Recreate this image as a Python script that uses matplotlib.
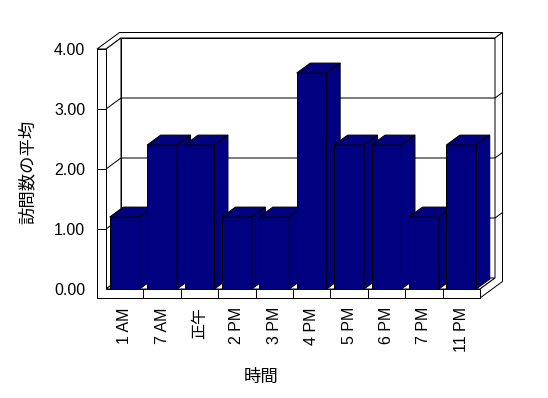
import matplotlib
matplotlib.use('Agg')
import matplotlib.pyplot as plt
from matplotlib.patches import Polygon

# ---- data ----
categories = ['1 AM', '7 AM', '正午', '2 PM', '3 PM', '4 PM', '5 PM', '6 PM', '7 PM', '11 PM']
avg_visits = [1.2, 2.4, 2.4, 1.2, 1.2, 3.6, 2.4, 2.4, 1.2, 2.4]
y_ticks = [0, 1, 2, 3, 4]
y_tick_labels = ['0.00', '1.00', '2.00', '3.00', '4.00']
x_title = '時間'
y_title = '訪問数の平均'

plt.rcParams['font.family'] = ['Liberation Sans', 'Noto Sans CJK JP']

W, H = 548, 398
fig = plt.figure(figsize=(W / 100, H / 100), dpi=100)
fig.patch.set_facecolor('white')
L, R, T, B = 106, 480, 49, 289
ax = fig.add_axes([L / W, 1 - B / H, (R - L) / W, (B - T) / H])
n = len(categories)
ymax = y_ticks[-1]
ax.set_xlim(-0.5, n - 0.5)
ax.set_ylim(0, ymax)
for s in ax.spines.values():
    s.set_visible(False)
ax.patch.set_visible(False)

pxx = (R - L) / n          # pixels per category
pxy = (B - T) / ymax       # pixels per value unit
kx = 15 / pxx              # depth offset (x) per unit depth
ky = 11 / pxy              # depth offset (y) per unit depth
tw = 9 / pxx               # left wall thickness
tf = 9 / pxy               # floor thickness
tb = 0.5                   # back wall thickness (depth units)

def P(x, y, z):
    return (x + z * kx, y + z * ky)

LW = 0.72
navy = '#000080'
AA = True

def face(pts, fc, zo):
    ax.add_patch(Polygon([P(*p) for p in pts], closed=True, fc=fc, ec='black',
                         lw=LW, clip_on=False, zorder=zo, joinstyle='miter',
                         antialiased=AA))

def line(pts, zo=1.5):
    xy = [P(*p) for p in pts]
    ax.plot([q[0] for q in xy], [q[1] for q in xy], color='black', lw=LW,
            clip_on=False, zorder=zo, solid_joinstyle='miter', antialiased=AA)

X0, X1 = -0.5, n - 0.5
Xw = X0 - tw
Yf = -tf
Ze = 1 + tb

# walls and floor
face([(X0, 0, 1), (X1, 0, 1), (X1, ymax, 1), (X0, ymax, 1)], 'white', 1)
face([(Xw, ymax, 0), (X0, ymax, 0), (X0, ymax, 1), (X1, ymax, 1),
      (X1, ymax, Ze), (Xw, ymax, Ze)], 'white', 1)
face([(X0, 0, 0), (X0, 0, 1), (X0, ymax, 1), (X0, ymax, 0)], 'white', 1)
face([(X0, 0, 0), (X1, 0, 0), (X1, 0, 1), (X0, 0, 1)], 'white', 1)
face([(X1, Yf, 0), (X1, 0, 0), (X1, 0, 1), (X1, ymax, 1), (X1, ymax, Ze),
      (X1, Yf, Ze)], 'white', 1)
face([(Xw, Yf, 0), (X1, Yf, 0), (X1, 0, 0), (X0, 0, 0), (X0, ymax, 0),
      (Xw, ymax, 0)], 'white', 2)

# gridlines
for yv in y_ticks[1:-1]:
    line([(X0, yv, 0), (X0, yv, 1), (X1, yv, 1), (X1, yv, Ze)])
    line([(Xw, yv, 0), (X0, yv, 0)], 2.5)
# category separators on the floor front
for i in range(n - 1):
    line([(i + 0.5, 0, 0), (i + 0.5, Yf, 0)], 2.5)

# bars
bw = 0.8
zb = 0.9
bars = ax.bar(range(n), avg_visits, width=bw, color=navy, edgecolor='black',
              linewidth=LW)
for i, (p, v) in enumerate(zip(bars, avg_visits)):
    p.set_zorder(3 + i)
    p.set_antialiased(AA)
    xl, xr = i - bw / 2, i + bw / 2
    face([(xl, v, 0), (xr, v, 0), (xr, v, zb), (xl, v, zb)], navy, 3 + i)
    face([(xr, 0, 0), (xr, 0, zb), (xr, v, zb), (xr, v, 0)], navy, 3 + i)

# ticks and labels
ax.set_xticks(range(n))
ax.set_xticklabels(categories, rotation=90, fontsize=11.5)
ax.set_yticks(y_ticks)
ax.set_yticklabels(y_tick_labels, fontsize=11.5)
ax.tick_params(axis='x', length=0, pad=13)
ax.tick_params(axis='y', length=0, pad=15)

ax.set_xlabel(x_title, fontsize=12.5)
ax.xaxis.label.set_va('center')
ax.xaxis.set_label_coords((261 - L) / (R - L), (B - 377) / (B - T))
ax.set_ylabel(y_title, fontsize=12.5)
ax.yaxis.label.set_va('center')
ax.yaxis.label.set_ha('center')
ax.yaxis.set_label_coords((27 - L) / (R - L), (B - 172) / (B - T))

fig.savefig('out.png', dpi=100, facecolor='white')
